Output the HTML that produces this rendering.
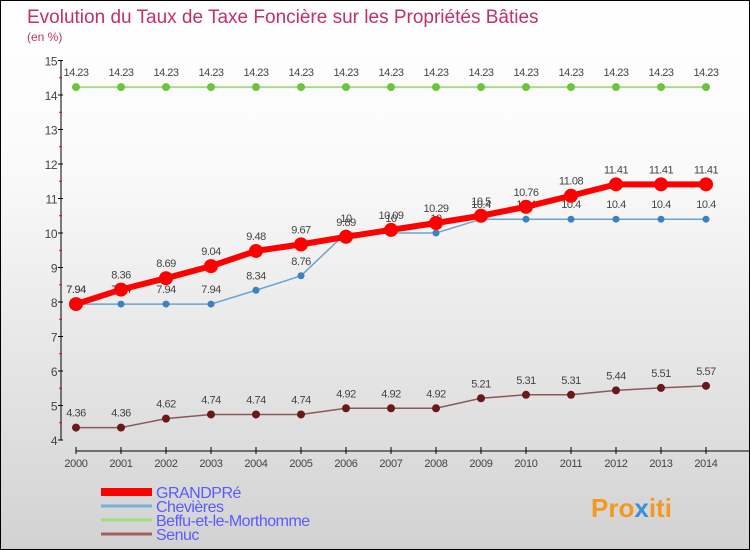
<!DOCTYPE html>
<html><head><meta charset="utf-8"><style>
body{margin:0}
#c{width:748px;height:548px;border:1px solid #000;background:linear-gradient(#fff,#fafafa 30%,#d2d2d2);position:relative;font-family:"Liberation Sans",sans-serif;overflow:hidden}
svg text{font-family:"Liberation Sans",sans-serif}
</style></head><body>
<div id="c">
<svg id="s" width="748" height="548">
<text x="26" y="22" font-size="19" fill="#c0306a">Evolution du Taux de Taxe Foncière sur les Propriétés Bâties</text>
<text x="26" y="40" font-size="12" fill="#c0306a">(en %)</text>
<text x="590" y="516" font-size="26" font-weight="bold" fill="#f39a1e">Pro<tspan fill="#3a8fd6">x</tspan>iti</text>
</svg></div>
<script>
const years=[2000,2001,2002,2003,2004,2005,2006,2007,2008,2009,2010,2011,2012,2013,2014];
const yTicks=[4,5,6,7,8,9,10,11,12,13,14,15];
const grandpre=[7.94,8.36,8.69,9.04,9.48,9.67,9.89,10.09,10.29,10.5,10.76,11.08,11.41,11.41,11.41];
const chevieres=[7.94,7.94,7.94,7.94,8.34,8.76,10,10,10,10.4,10.4,10.4,10.4,10.4,10.4];
const beffu=[14.23,14.23,14.23,14.23,14.23,14.23,14.23,14.23,14.23,14.23,14.23,14.23,14.23,14.23,14.23];
const senuc=[4.36,4.36,4.62,4.74,4.74,4.74,4.92,4.92,4.92,5.21,5.31,5.31,5.44,5.51,5.57];
const seriesNames=["GRANDPRé","Chevières","Beffu-et-le-Morthomme","Senuc"];
const s=document.getElementById('s'),NS='http://www.w3.org/2000/svg';
const X=i=>75+i*45, Y=v=>439-(v-4)*34.5;
function mk(t,a,p){const e=document.createElementNS(NS,t);for(const k in a)e.setAttribute(k,a[k]);(p||s).appendChild(e);return e;}
let ax=mk('line',{x1:60,y1:59,x2:60,y2:439,stroke:'#000'});


let xa=mk('line',{x1:75,y1:450,x2:748,y2:450,stroke:'#000'});


yTicks.forEach(v=>{mk('line',{x1:57,x2:62,y1:Y(v),y2:Y(v),stroke:'#000'});
 if(v<15)mk('line',{x1:58,x2:61,y1:Y(v+0.5),y2:Y(v+0.5),stroke:'#f00'});
 const t=mk('text',{x:56,y:Y(v)+5,'text-anchor':'end','font-size':12,fill:'#444','letter-spacing':'-0.5'});t.textContent=v;
 
 });
years.forEach((y,i)=>{mk('line',{x1:X(i),x2:X(i),y1:446,y2:453,stroke:'#000'});
 const t=mk('text',{x:X(i),y:466,'text-anchor':'middle','font-size':11,fill:'#444','letter-spacing':'-0.3'});t.textContent=y;
 
 });
function series(d,col,w,r,dot,name,lab){
 const g=mk('g',{});
 
 
 mk('polyline',{points:d.map((v,i)=>X(i)+','+Y(v)).join(' '),fill:'none',stroke:col,'stroke-width':w},g);
 d.forEach((v,i)=>{const c=mk('circle',{cx:X(i),cy:Y(v),r:r,fill:dot},g);
  
  
  if(lab){const t=mk('text',{x:X(i),y:Y(v)-11,'text-anchor':'middle','font-size':11,fill:'#444','letter-spacing':'-0.5'},g);t.textContent=v;}});
}
series(beffu,'#a8dc8a',2,4,'#6cc33c','series-beffu',true);
series(senuc,'#8a5a5a',1.5,4,'#6a1818','series-senuc',true);
series(chevieres,'#6aa4d0',1.5,3.5,'#3a82c0','series-chevieres',true);
series(grandpre,'#f00',6,7,'#f00','series-grandpre',true);
const cols=['#f00','#7ab0d8','#a0dc80','#a06060'],ws=[8,3,3,3];
seriesNames.forEach((n,i)=>{const y=491+i*14;
 const l=mk('line',{x1:100,x2:151,y1:y,y2:y,stroke:cols[i],'stroke-width':ws[i]});
 
 
 const t=mk('text',{x:155,y:y+6,'font-size':16,fill:'#5a5aff','letter-spacing':'-0.5'});t.textContent=n;
 
 });
</script>
</body></html>
